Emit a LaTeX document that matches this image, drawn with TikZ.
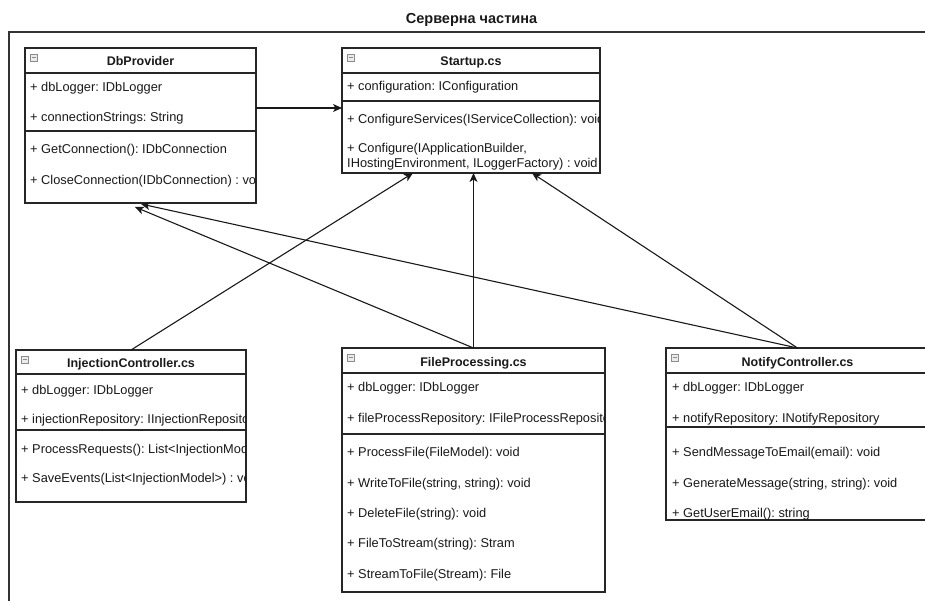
\documentclass[tikz,border=0pt]{standalone}
\usepackage{fontspec}
\setmainfont{Liberation Sans}
\usetikzlibrary{arrows.meta,calc}
\frenchspacing

\tikzset{
  classbox/.style={draw=black!85, line width=1.2pt, fill=white, inner sep=0pt, outer sep=0pt, anchor=north west},
  member/.style={anchor=base west, inner sep=0pt, font=\fontsize{12.8}{14}\selectfont, text=black!90},
  classname/.style={anchor=base, inner sep=0pt, font=\fontsize{12.5}{14}\selectfont\bfseries, text=black!90},
  rule/.style={draw=black!85, line width=1.1pt},
  dep/.style={draw=black!90, line width=1.1pt, -{Stealth[length=9pt,width=8pt,inset=2.5pt]}},
  frame/.style={draw=black!80, line width=1.5pt},
  foldicon/.style={draw=black!45, fill=black!8, line width=0.5pt},
}

\begin{document}
\begin{tikzpicture}[x=1pt,y=-1pt]
\useasboundingbox (0,0) rectangle (925,601);
\clip (0,0) rectangle (925,601);

% outer frame and its caption
\draw[frame] (9,640) -- (9,32) -- (960,32);
\node[inner sep=0pt, font=\fontsize{14.5}{16}\selectfont\bfseries, text=black!90] (caption) at (471.5,20) {Серверна частина};

% ---------------- DbProvider ----------------
\node[classbox, minimum width=231pt, minimum height=155pt] (db) at (25,48) {};
\draw[rule] (25,73) -- (256,73);
\draw[rule] (25,131) -- (256,131);
\draw[foldicon] (30,54) rectangle (37,61);
\draw[black!45, line width=0.5pt] (31.5,57.5) -- (35.5,57.5);
\node[classname] (db-name) at (140.5,65.5) {DbProvider};
\begin{scope}
  \clip (25,48) rectangle (255,203);
  \node[member] (db-a1) at (30,91.5)  {+ dbLogger: IDbLogger};
  \node[member] (db-a2) at (30,121.5) {+ connectionStrings: String};
  \node[member] (db-m1) at (30,153.5) {+ GetConnection(): IDbConnection};
  \node[member] (db-m2) at (30,184.5) {+ CloseConnection(IDbConnection) : void};
\end{scope}

% ---------------- Startup.cs ----------------
\node[classbox, minimum width=258pt, minimum height=125pt] (st) at (342,48) {};
\draw[rule] (342,73) -- (600,73);
\draw[rule] (342,101) -- (600,101);
\draw[foldicon] (347,54) rectangle (354,61);
\draw[black!45, line width=0.5pt] (348.5,57.5) -- (352.5,57.5);
\node[classname] (st-name) at (471,66) {Startup.cs};
\begin{scope}
  \clip (342,48) rectangle (599,173);
  \node[member] (st-a1) at (347,90.5)  {+ configuration: IConfiguration};
  \node[member] (st-m1) at (347,123.5) {+ ConfigureServices(IServiceCollection): void};
  \node[member] (st-m2) at (347,152.5) {+ Configure(IApplicationBuilder,};
  \node[member] (st-m3) at (347,167.5) {IHostingEnvironment, ILoggerFactory) : void};
\end{scope}

% ---------------- InjectionController.cs ----------------
\node[classbox, minimum width=230pt, minimum height=152pt] (inj) at (16,350) {};
\draw[rule] (16,374) -- (246,374);
\draw[rule] (16,430) -- (246,430);
\draw[foldicon] (21,356) rectangle (28,363);
\draw[black!45, line width=0.5pt] (22.5,359.5) -- (26.5,359.5);
\node[classname] (inj-name) at (131,367.5) {InjectionController.cs};
\begin{scope}
  \clip (16,350) rectangle (245,502);
  \node[member] (inj-a1) at (21,394) {+ dbLogger: IDbLogger};
  \node[member] (inj-a2) at (21,423) {+ injectionRepository: IInjectionRepository};
  \node[member] (inj-m1) at (21,453) {+ ProcessRequests(): List<InjectionModel>};
  \node[member] (inj-m2) at (21,482) {+ SaveEvents(List<InjectionModel>) : void};
\end{scope}

% ---------------- FileProcessing.cs ----------------
\node[classbox, minimum width=263pt, minimum height=244pt] (fp) at (342,348) {};
\draw[rule] (342,373) -- (605,373);
\draw[rule] (342,434) -- (605,434);
\draw[foldicon] (347,354) rectangle (354,361);
\draw[black!45, line width=0.5pt] (348.5,357.5) -- (352.5,357.5);
\node[classname] (fp-name) at (473.5,366.5) {FileProcessing.cs};
\begin{scope}
  \clip (342,348) rectangle (604,592);
  \node[member] (fp-a1) at (347,391.5) {+ dbLogger: IDbLogger};
  \node[member] (fp-a2) at (347,422.5) {+ fileProcessRepository: IFileProcessRepository};
  \node[member] (fp-m1) at (347,456.5) {+ ProcessFile(FileModel): void};
  \node[member] (fp-m2) at (347,487.5) {+ WriteToFile(string, string): void};
  \node[member] (fp-m3) at (347,517.5) {+ DeleteFile(string): void};
  \node[member] (fp-m4) at (347,547.5) {+ FileToStream(string): Stram};
  \node[member] (fp-m5) at (347,578.5) {+ StreamToFile(Stream): File};
\end{scope}

% ---------------- NotifyController.cs ----------------
\node[classbox, minimum width=263pt, minimum height=172pt] (nc) at (666,348) {};
\draw[rule] (666,373) -- (929,373);
\draw[rule] (666,427) -- (929,427);
\draw[foldicon] (671,354) rectangle (678,361);
\draw[black!45, line width=0.5pt] (672.5,357.5) -- (676.5,357.5);
\node[classname] (nc-name) at (797.5,366.5) {NotifyController.cs};
\begin{scope}
  \clip (666,348) rectangle (928,520);
  \node[member] (nc-a1) at (672,391.5) {+ dbLogger: IDbLogger};
  \node[member] (nc-a2) at (672,422.5) {+ notifyRepository: INotifyRepository};
  \node[member] (nc-m1) at (672,456.5) {+ SendMessageToEmail(email): void};
  \node[member] (nc-m2) at (672,487.5) {+ GenerateMessage(string, string): void};
  \node[member] (nc-m3) at (672,517.5) {+ GetUserEmail(): string};
\end{scope}

% ---------------- dependencies ----------------
\draw[dep] ($(db.north east)+(0,60)$) -- ($(st.north west)+(0,60)$);
\draw[dep] (inj.north) -- ($(st.south west)+(71,0)$);
\draw[dep] (fp.north) -- (fp.north |- st.south);
\draw[dep] (nc.north) -- ($(st.south west)+(190,0)$);
\draw[dep] (fp.north) -- ($(db.south west)+(110,4)$);
\draw[dep] (nc.north) -- ($(db.south west)+(116,1)$);
\end{tikzpicture}
\end{document}
